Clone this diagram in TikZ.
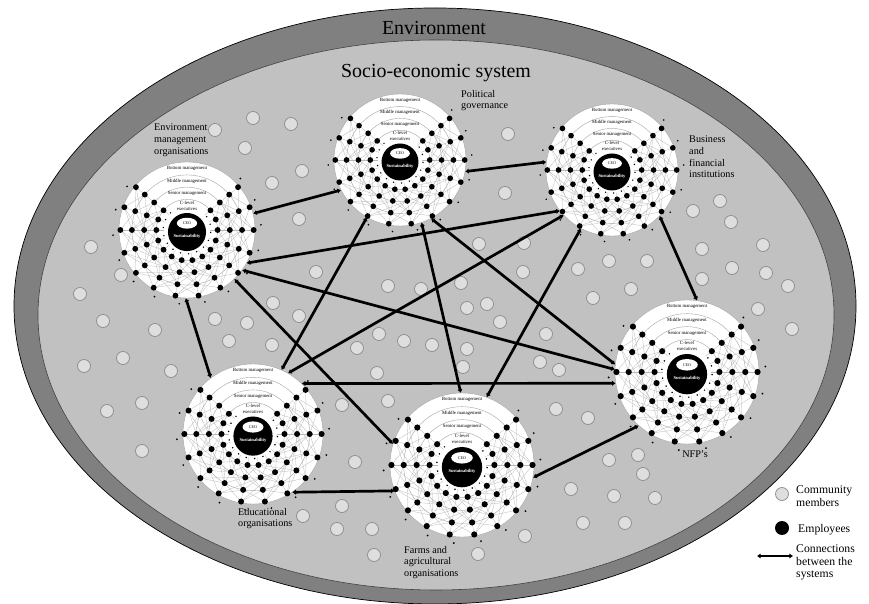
\documentclass[tikz,border=0pt]{standalone}
\usepackage{fontspec}
\setmainfont{Liberation Serif}
\usetikzlibrary{arrows.meta}

\definecolor{envgray}{RGB}{128,128,128}
\definecolor{sesgray}{RGB}{193,193,193}
\definecolor{membergray}{RGB}{222,222,222}
\definecolor{memberline}{RGB}{140,140,140}

\tikzset{
  member/.style={circle, fill=membergray, draw=memberline, line width=0.6pt, minimum size=3.9mm, inner sep=0},
  employee/.style={circle, fill=black, minimum size=4.2mm, inner sep=0},
  orgdisk/.style={circle, inner sep=0, minimum size=#1*0.6mm},
  orglabel/.style={font=\fontsize{8.7}{9.9}\selectfont, align=left, anchor=north west, inner sep=0},
  keytext/.style={font=\fontsize{10}{10.6}\selectfont, align=left, inner sep=0},
  link/.style={line width=2.3pt, {Latex[length=3pt,width=4.6pt]}-{Latex[length=3pt,width=4.6pt]}},
  ringline/.style={gray!70, line width=0.35pt},
  webline/.style={gray!55, line width=0.25pt},
  ringtext/.style={font=\fontsize{4.1}{5.2}\selectfont, inner sep=0},
  org/.pic={
    \fill[white] (0,0) circle (1);
    \draw[ringline] (0,0) circle (1) (0,0) circle (0.81) (0,0) circle (0.63) (0,0) circle (0.45);
    \foreach \a in {140,160,...,380}{
      \draw[webline] (\a:0.45) -- (\a+20:0.63) (\a+20:0.45) -- (\a:0.63)
                     (\a:0.63) -- (\a+20:0.81) (\a+20:0.63) -- (\a:0.81)
                     (\a:0.81) -- (\a+20:0.98) (\a+20:0.81) -- (\a:0.98);
    }
    \foreach \a in {140,160,...,360}{
      \draw[webline] (\a:0.45) -- (\a+40:0.81) (\a+40:0.63) -- (\a:0.98);
    }
    \foreach \a in {140,160,...,400}{
      \draw[webline] (\a:0.34) -- (\a:0.98);
      \fill (\a+4:1.09) circle (0.014) (\a-6:0.35) circle (0.012);
      \foreach \r in {0.45,0.63,0.81,0.98}
        \fill (\a:\r) circle (0.043);
    }
    \fill (0,-0.03) circle (0.28);
    \fill[white] (0,0.1) ellipse [x radius=0.15, y radius=0.08];
    \node[ringtext, font=\fontsize{3.5}{4}\selectfont] at (0,0.1) {CEO};
    \node[ringtext, white, font=\fontsize{3.9}{4}\selectfont\bfseries] at (0,-0.09) {Sustainability};
    \node[ringtext] at (0,0.905) {Bottom management};
    \node[ringtext] at (0,0.72) {Middle management};
    \node[ringtext] at (0,0.54) {Senior management};
    \node[ringtext, align=center] at (0,0.36) {C-level\\executives};
  }
}

\begin{document}
\begin{tikzpicture}[x=0.3mm,y=-0.3mm]
\useasboundingbox (0,0) rectangle (869,604);
\fill[white] (0,0) rectangle (869,604);

% environment and socio-economic system
\draw[fill=envgray, line width=0.6pt] (435,306) ellipse [x radius=421, y radius=298];
\draw[fill=sesgray, draw=black!75, line width=0.5pt] (436,315) ellipse [x radius=398, y radius=275];
\node[font=\fontsize{17}{20}\selectfont] (envtitle) at (434,28) {Environment};
\node[font=\fontsize{17}{20}\selectfont] (sestitle) at (436,73) {Socio-economic system};

% community members
\foreach \mx/\my [count=\i] in {253/118,291/124,215/130,245/148,302/171,272/183,299/219,316/272,273/303,299/316,
  215/319,247/323,91/247,121/275,80/294,103/321,155/330,84/366,123/358,171/371,107/411,142/403,142/451,229/341,272/345,
  508/134,505/193,479/244,524/243,523/272,609/261,578/269,388/286,421/289,461/283,593/298,467/308,487/304,500/322,
  379/334,404/341,357/348,432/345,467/349,546/334,463/367,540/362,559/370,377/373,342/405,388/401,556/409,588/418,
  693/211,720/201,731/222,763/245,702/249,732/268,766/273,788/286,702/279,647/261,631/289,758/309,792/329,
  609/460,638/455,643/474,355/462,342/506,303/516,337/529,372/529,374/555,478/554,525/536,571/489,614/496,655/498,
  583/523,625/523}
  \node[member] (m\i) at (\mx,\my) {};

% organisations
\node[orgdisk=68] (env) at (187,230) {};
\pic[scale=68,yscale=-1] at (env) {org};
\node[orgdisk=66] (pol) at (400,160) {};
\pic[scale=66,yscale=-1] at (pol) {org};
\node[orgdisk=66] (bus) at (612,170) {};
\pic[scale=66,yscale=-1] at (bus) {org};
\node[orgdisk=72] (nfp) at (687,372) {};
\pic[scale=72,yscale=-1] at (nfp) {org};
\node[orgdisk=70] (edu) at (253,434) {};
\pic[scale=70,yscale=-1] at (edu) {org};
\node[orgdisk=72] (farms) at (462,465) {};
\pic[scale=72,yscale=-1] at (farms) {org};

\node[orglabel] (envlabel) at (154,124) {Environment\\management\\organisations};
\node[orglabel] (pollabel) at (461,90) {Political\\governance};
\node[orglabel] (buslabel) at (689,136) {Business\\and\\financial\\institutions};
\node[font=\fontsize{8.7}{9.9}\selectfont, inner sep=0] (nfplabel) at (695,454) {NFP's};
\node[orglabel] (edulabel) at (238,508) {Educational\\organisations};
\node[orglabel] (farmslabel) at (404,546) {Farms and\\agricultural\\organisations};

% connections
\draw[link] (env.14) -- (pol.207);
\draw[link] (pol.350) -- (bus.173);
\draw[link] (env.269) -- (edu.127);
\draw[link] (env.314) -- (farms.163);
\draw[link] (env.331) -- (bus.218);
\draw[link] (env.324) -- (nfp.178);
\draw[link] (edu.60) -- (bus.223);
\draw[link] (pol.240) -- (edu.66);
\draw[link] (pol.289) -- (farms.91);
\draw[link] (pol.298) -- (nfp.174);
\draw[link] (edu.46) -- (nfp.189);
\draw[link] (bus.242) -- (farms.70);
\draw[link] (bus.316) -- (nfp.82);
\draw[link] (farms.350) -- (nfp.228);
\draw[link] (edu.304) -- (farms.201);

% key
\node[member] (keymember) at (782,494) {};
\node[keytext, anchor=north west] (keymembertext) at (796,486) {Community\\members};
\node[employee] (keyemployee) at (782,528) {};
\node[keytext, anchor=west] (keyemployeetext) at (798,530) {Employees};
\coordinate (keya) at (757,556);
\coordinate (keyb) at (793,556);
\draw[link] (keya) -- (keyb);
\node[keytext, anchor=north west] (keylinktext) at (796,545) {Connections\\between the\\systems};
\end{tikzpicture}
\end{document}
